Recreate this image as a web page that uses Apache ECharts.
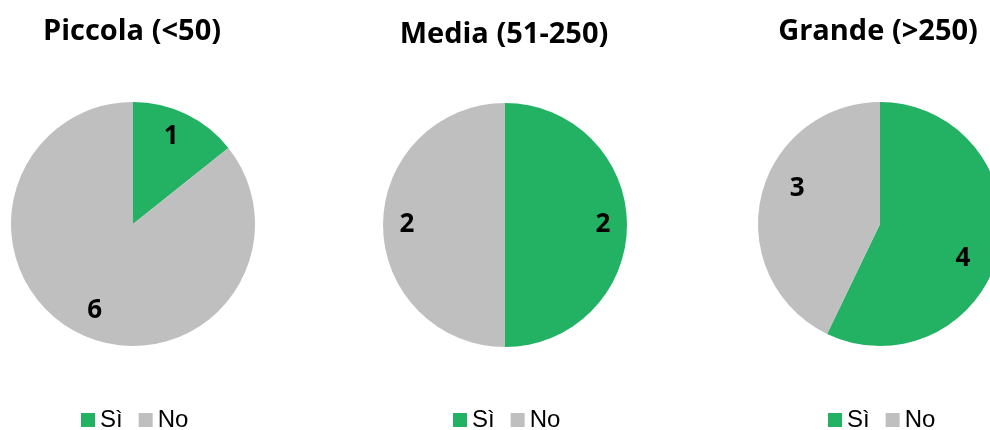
<!DOCTYPE html>
<html><head><meta charset="utf-8">
<script src="https://cdn.jsdelivr.net/npm/echarts@6/dist/echarts.min.js"></script>
<style>html,body{margin:0;padding:0;background:#fff}#c{width:990px;height:430px}</style>
</head><body><div id="c"></div>
<script>
const categories = ['Sì', 'No'];
const groups = ['Piccola (<50)', 'Media (51-250)', 'Grande (>250)'];
const siValues = [1, 2, 4];
const noValues = [6, 2, 3];
const colors = ['#23B163', '#BFBFBF'];

const centers = [[133, 224], [505, 225], [880, 224]];
const titleX = [127, 499, 873];
const titleTop = [12, 15, 12];
const legendLeft = [81, 453, 828];
const labelAngleShift = [2, 0, -10];
const labelRadius = [92, 95, 87];
const R = 122;

const series = [];
const titles = [];
const legends = [];
groups.forEach((g, i) => {
  const data = [
    { name: categories[0], value: siValues[i] },
    { name: categories[1], value: noValues[i] }
  ];
  series.push({
    type: 'pie', center: centers[i], radius: [0, R], startAngle: 90, clockwise: true,
    silent: true, animation: false, label: { show: false }, labelLine: { show: false },
    itemStyle: { borderWidth: 0 }, emphasis: { disabled: true }, data: data
  });
  series.push({
    type: 'pie', center: centers[i], radius: [2 * labelRadius[i] - R, R], startAngle: 90 + labelAngleShift[i], clockwise: true,
    silent: true, animation: false,
    itemStyle: { color: 'rgba(0,0,0,0)', borderWidth: 0 }, emphasis: { disabled: true },
    label: { show: true, position: 'inside', formatter: '{c}', color: '#000',
      fontFamily: 'Open Sans', fontWeight: 'bold', fontSize: 26 },
    labelLine: { show: false }, data: data
  });
  titles.push({ text: g, left: titleX[i], top: titleTop[i], textAlign: 'center',
    textStyle: { fontFamily: 'Open Sans', fontWeight: 'bold', fontSize: 29, color: '#000' } });
  legends.push({ data: categories, left: legendLeft[i], top: 408, padding: 0,
    icon: 'rect', itemWidth: 14, itemHeight: 14, itemGap: 16, selectedMode: false,
    textStyle: { fontFamily: 'Liberation Sans', fontSize: 24, color: '#000' } });
});

const chart = echarts.init(document.getElementById('c'), null, { renderer: 'canvas' });
chart.setOption({ animation: false, color: colors, title: titles, legend: legends, series: series });
</script></body></html>
